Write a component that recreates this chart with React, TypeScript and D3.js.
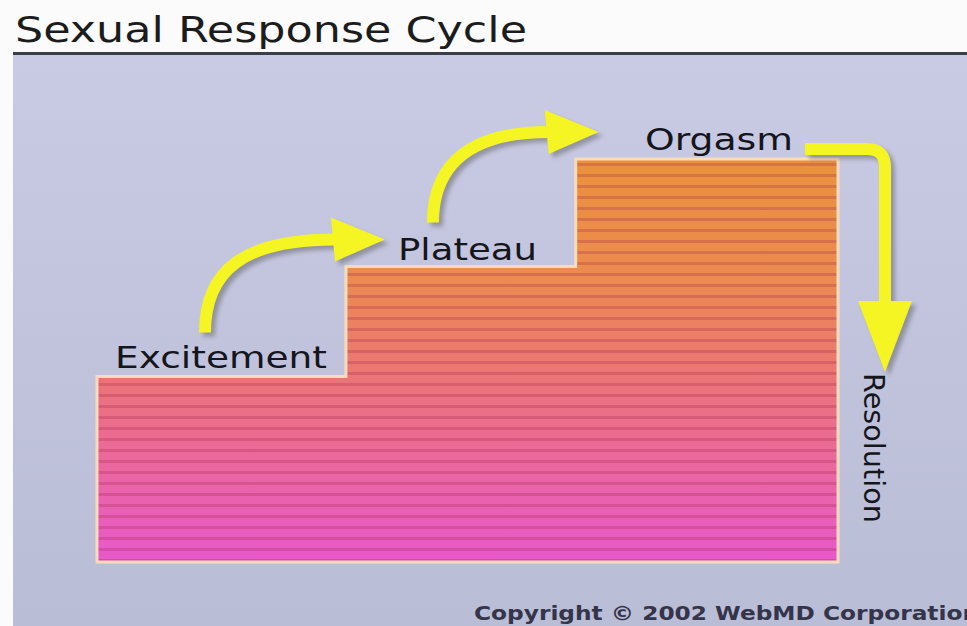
import { useMemo } from "react";
import * as d3 from "d3";

// phases of the cycle, left to right
const phases = ["Excitement", "Plateau", "Orgasm"];
const phaseStart = [0, 33.6, 64.6];
const phaseEnd = 100;
const arousal = [1.38, 2.2, 3.0];
const lastPhase = "Resolution";

const W = 967;
const H = 626;

export default function App() {
  const x = d3.scaleLinear().domain([0, 100]).range([97, 838]);
  const y = d3.scaleLinear().domain([0, 3]).range([562, 159]);

  const stepPath = useMemo(() => {
    const pts: [number, number][] = [[x(0), y(0)]];
    phases.forEach((_, i) => {
      pts.push([x(phaseStart[i]), y(arousal[i])]);
      pts.push([i < phases.length - 1 ? x(phaseStart[i + 1]) : x(phaseEnd), y(arousal[i])]);
    });
    pts.push([x(phaseEnd), y(0)]);
    // insert vertical corners
    const out: [number, number][] = [pts[0]];
    for (let i = 1; i < pts.length; i++) {
      const prev = out[out.length - 1];
      const p = pts[i];
      if (prev[0] !== p[0] && prev[1] !== p[1]) out.push([p[0], prev[1]]);
      out.push(p);
    }
    return d3.line()(out) + "Z";
  }, []);

  const stripes = d3.range(y(3) + 4, y(0), 11);

  // arrows between labels
  const arrowD = [0, 1].map((i) => {
    const sx = x(phaseStart[i]) + (i === 0 ? 108 : 87);
    const sy = y(arousal[i]) - 44;
    const ex = x(phaseStart[i + 1]) - 11 - (i === 0 ? 0 : 16);
    const ey = y(arousal[i + 1]) - 27;
    return {
      d: `M${sx},${sy} C${sx},${ey + 30} ${sx + 40},${ey} ${ex},${ey}`,
      head: `M${ex - 4},${ey - 22} L${ex + 50},${ey} L${ex},${ey + 22}Z`,
    };
  });
  const ox = x(phaseEnd) + 47;
  const oy = y(3) - 10;
  arrowD.push({
    d: `M${ox - 80},${oy} L${ox - 18},${oy} Q${ox},${oy} ${ox},${oy + 18} L${ox},${oy + 160}`,
    head: `M${ox - 27},${oy + 152} L${ox + 27},${oy + 152} L${ox},${oy + 223}Z`,
  });

  const labelPos = [
    { x: 115, y: 368, len: 212 },
    { x: 398, y: 260, len: 139 },
    { x: 645, y: 150, len: 148 },
  ];

  return (
    <svg width={W} height={H} style={{ position: "absolute", left: 0, top: 0, display: "block" }}>
      <defs>
        <linearGradient id="bg" x1="0" y1="0" x2="0" y2="1">
          <stop offset="0%" stopColor="#c9cae3" />
          <stop offset="100%" stopColor="#babdd6" />
        </linearGradient>
        <linearGradient id="steps" gradientUnits="userSpaceOnUse" x1="0" y1={y(3)} x2="0" y2={y(0)}>
          <stop offset="0%" stopColor="#ea923c" />
          <stop offset="30%" stopColor="#ec8a50" />
          <stop offset="55%" stopColor="#ec7478" />
          <stop offset="100%" stopColor="#e858cc" />
        </linearGradient>
        <clipPath id="stepClip">
          <path d={stepPath} />
        </clipPath>
        <filter id="shadow" x="-20%" y="-20%" width="140%" height="140%">
          <feGaussianBlur stdDeviation="2" />
        </filter>
      </defs>
      <rect width={W} height={H} fill="#fbfbfb" />
      <text
        x={15}
        y={42}
        fontFamily="DejaVu Sans, Verdana, sans-serif"
        fontSize={35}
        fill="#1c1c1c"
        textLength={512}
        lengthAdjust="spacingAndGlyphs"
      >
        Sexual Response Cycle
      </text>
      <rect x={13} y={52} width={W - 13} height={3} fill="#3a3e48" />
      <rect x={13} y={55} width={W - 13} height={H - 55} fill="url(#bg)" />

      <path d={stepPath} fill="url(#steps)" />
      <g clipPath="url(#stepClip)">
        {stripes.map((s) => (
          <rect key={s} x={x(0)} y={s} width={x(phaseEnd) - x(0)} height={3} fill="#a02c50" opacity={0.28} />
        ))}
      </g>
      <path d={stepPath} fill="none" stroke="#f9dcbc" strokeWidth={3} />

      {phases.map((p, i) => (
        <text
          key={p}
          x={labelPos[i].x}
          y={labelPos[i].y}
          fontFamily="DejaVu Sans, Verdana, sans-serif"
          fontSize={30}
          fill="#15151c"
          textLength={labelPos[i].len}
          lengthAdjust="spacingAndGlyphs"
        >
          {p}
        </text>
      ))}
      <text
        transform={`translate(864,373) rotate(90)`}
        fontFamily="DejaVu Sans, Verdana, sans-serif"
        fontSize={29}
        fill="#15151c"
        textLength={150}
        lengthAdjust="spacingAndGlyphs"
      >
        {lastPhase}
      </text>

      {arrowD.map((a, i) => (
        <g key={i}>
          <g transform="translate(4,4)" filter="url(#shadow)" opacity={0.45}>
            <path d={a.d} fill="none" stroke="#555" strokeWidth={12} />
            <path d={a.head} fill="#555" />
          </g>
          <path d={a.d} fill="none" stroke="#f5f524" strokeWidth={12} />
          <path d={a.head} fill="#f5f524" />
        </g>
      ))}

      <text
        x={474}
        y={620}
        fontFamily="DejaVu Sans, Verdana, sans-serif"
        fontSize={19}
        fontWeight="bold"
        fill="#34344a"
        textLength={505}
        lengthAdjust="spacingAndGlyphs"
      >
        Copyright © 2002 WebMD Corporation
      </text>
    </svg>
  );
}
